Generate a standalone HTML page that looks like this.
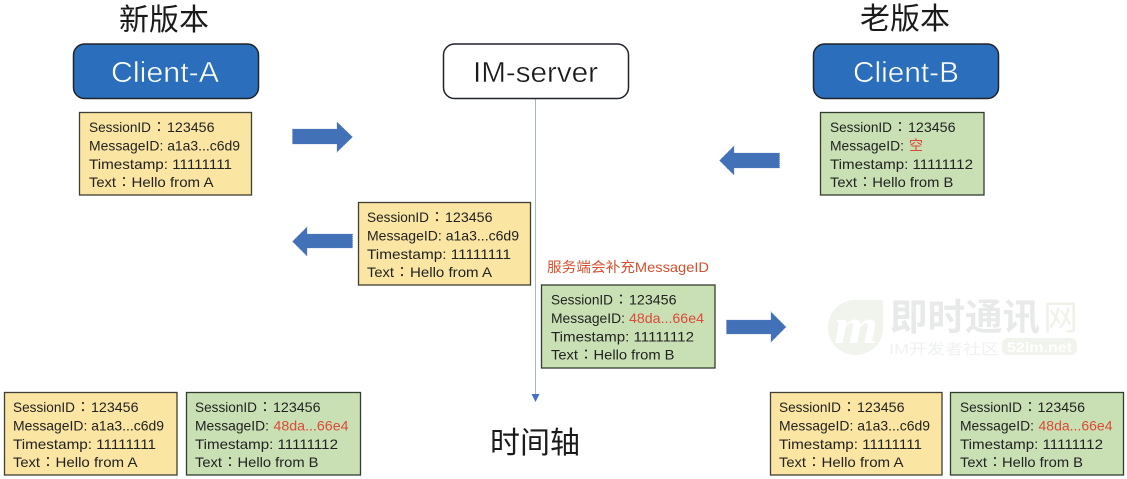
<!DOCTYPE html>
<html>
<head>
<meta charset="utf-8">
<style>
html,body{margin:0;padding:0;background:#fff;}
svg{display:block;filter:blur(.3px);}
text{font-family:"Liberation Sans","Noto Sans CJK SC",sans-serif;}
.t{font-size:14px;fill:#222;}
.k{font-size:14px;fill:#222;font-family:"Noto Sans CJK TC",sans-serif;}
.r{font-size:14px;fill:#db4a3a;}
.y{fill:#fbe5a2;stroke:#3f3f36;stroke-width:1.3;}
.g{fill:#c9e0b4;stroke:#333d2f;stroke-width:1.3;}
.ar{fill:#4371b8;stroke:#5a80c0;stroke-width:.6;stroke-dasharray:1 1;}
.h{font-size:30px;fill:#1a1a1a;}
.c{font-size:29px;}
</style>
</head>
<body>
<svg width="1127" height="479" viewBox="0 0 1127 479" xmlns="http://www.w3.org/2000/svg">
<rect width="1127" height="479" fill="#fff"/>

<!-- watermark -->
<path d="M855 300H883V328C883 344 870 355 855 355C840 355 828 343 828 328C828 312 840 300 855 300Z" fill="#f1f4ec"/>
<text x="834" y="343" font-size="50" font-style="italic" font-weight="bold" fill="#fff" style="font-family:'Liberation Serif',serif" textLength="44" lengthAdjust="spacingAndGlyphs">m</text>
<text x="890" y="330" font-size="37" font-weight="bold" fill="#e8eaea" textLength="150" lengthAdjust="spacingAndGlyphs">即时通讯</text>
<text x="1043" y="330" font-size="35" fill="#f0f2ea">网</text>
<text x="889" y="354" font-size="15" fill="#f0f1f1" textLength="110" lengthAdjust="spacingAndGlyphs">IM开发者社区</text>
<rect x="1002" y="338" width="75" height="17" rx="6" fill="#f1f4ec"/>
<text x="1007" y="352" font-size="14" font-weight="bold" fill="#fff" textLength="65" lengthAdjust="spacingAndGlyphs">52im.net</text>

<!-- timeline -->
<line x1="535.5" y1="99" x2="535.5" y2="396" stroke="#a3b6d6" stroke-width="1"/>
<polygon points="531.5,394 539.5,394 535.5,402" fill="#4472c4"/>

<!-- headings -->
<text class="h" x="119" y="30" textLength="90">新版本</text>
<text class="h" x="860" y="29" textLength="90">老版本</text>
<text class="h" x="490" y="453" textLength="90">时间轴</text>

<!-- nodes -->
<rect x="73.5" y="44" width="185" height="54.5" rx="11" fill="#2b6fbc" stroke="#20242a" stroke-width="1.5"/>
<text class="c" x="111" y="82" fill="#fff" stroke="#2b6fbc" stroke-width=".5" textLength="108" lengthAdjust="spacingAndGlyphs">Client-A</text>
<rect x="443.5" y="44" width="185" height="54.5" rx="11" fill="#fff" stroke="#20242a" stroke-width="1.5"/>
<text class="c" x="473" y="82" fill="#1a1a1a" stroke="#fff" stroke-width=".4" textLength="125" lengthAdjust="spacingAndGlyphs">IM-server</text>
<rect x="813.5" y="44" width="185" height="54.5" rx="11" fill="#2b6fbc" stroke="#20242a" stroke-width="1.5"/>
<text class="c" x="853" y="82" fill="#fff" stroke="#2b6fbc" stroke-width=".5" textLength="106" lengthAdjust="spacingAndGlyphs">Client-B</text>

<!-- arrows -->
<polygon class="ar" points="292.5,129 337,129 337,122 352.5,137 337,152 337,144 292.5,144"/>
<polygon class="ar" points="779.5,153 734,153 734,146 719.5,160.5 734,175 734,168 779.5,168"/>
<polygon class="ar" points="352.5,234 307,234 307,227 292.5,241.5 307,256 307,248 352.5,248"/>
<polygon class="ar" points="726.5,320 771,320 771,312 786,327 771,342 771,334 726.5,334"/>

<!-- A1 -->
<rect class="y" x="79.5" y="112.5" width="172" height="82.5"/>
<g transform="translate(89,132)">
<text class="t" textLength="62" lengthAdjust="spacingAndGlyphs">SessionID</text>
<text class="k" x="63">：</text>
<text class="t" x="78" textLength="47.5" lengthAdjust="spacingAndGlyphs">123456</text>
<text class="t" y="18.5" textLength="151" lengthAdjust="spacingAndGlyphs">MessageID: a1a3...c6d9</text>
<text class="t" y="37" textLength="143" lengthAdjust="spacingAndGlyphs">Timestamp: 11111111</text>
<text class="t" y="55" textLength="27" lengthAdjust="spacingAndGlyphs">Text</text>
<text class="k" x="28" y="55">：</text>
<text class="t" x="42.5" y="55" textLength="82" lengthAdjust="spacingAndGlyphs">Hello from A</text>
</g>

<!-- A2 -->
<rect class="y" x="358.5" y="202.5" width="172" height="82.5"/>
<g transform="translate(367,222)">
<text class="t" textLength="62" lengthAdjust="spacingAndGlyphs">SessionID</text>
<text class="k" x="63">：</text>
<text class="t" x="78" textLength="47.5" lengthAdjust="spacingAndGlyphs">123456</text>
<text class="t" y="18.5" textLength="152" lengthAdjust="spacingAndGlyphs">MessageID: a1a3...c6d9</text>
<text class="t" y="37" textLength="144" lengthAdjust="spacingAndGlyphs">Timestamp: 11111111</text>
<text class="t" y="55" textLength="27" lengthAdjust="spacingAndGlyphs">Text</text>
<text class="k" x="28" y="55">：</text>
<text class="t" x="43" y="55" textLength="82" lengthAdjust="spacingAndGlyphs">Hello from A</text>
</g>

<!-- B1 -->
<rect class="g" x="820.5" y="112.5" width="163.5" height="82.5"/>
<g transform="translate(830,132)">
<text class="t" textLength="62" lengthAdjust="spacingAndGlyphs">SessionID</text>
<text class="k" x="63">：</text>
<text class="t" x="78" textLength="47.5" lengthAdjust="spacingAndGlyphs">123456</text>
<text class="t" y="18.5" textLength="74" lengthAdjust="spacingAndGlyphs">MessageID:</text>
<text class="r" x="79" y="18.5">空</text>
<text class="t" y="37" textLength="143" lengthAdjust="spacingAndGlyphs">Timestamp: 11111112</text>
<text class="t" y="55" textLength="27" lengthAdjust="spacingAndGlyphs">Text</text>
<text class="k" x="28" y="55">：</text>
<text class="t" x="42.3" y="55" textLength="81" lengthAdjust="spacingAndGlyphs">Hello from B</text>
</g>

<!-- server label -->
<text class="r" x="547" y="272" style="fill:#d4502f" textLength="162" lengthAdjust="spacingAndGlyphs">服务端会补充MessageID</text>

<!-- B2 -->
<rect class="g" x="541.5" y="285" width="173.5" height="83"/>
<g transform="translate(551,304.5)">
<text class="t" textLength="62" lengthAdjust="spacingAndGlyphs">SessionID</text>
<text class="k" x="63">：</text>
<text class="t" x="78" textLength="47.5" lengthAdjust="spacingAndGlyphs">123456</text>
<text class="t" y="18.5" textLength="74" lengthAdjust="spacingAndGlyphs">MessageID:</text>
<text class="r" x="78" y="18.5" textLength="75" lengthAdjust="spacingAndGlyphs">48da...66e4</text>
<text class="t" y="37" textLength="143" lengthAdjust="spacingAndGlyphs">Timestamp: 11111112</text>
<text class="t" y="55" textLength="27" lengthAdjust="spacingAndGlyphs">Text</text>
<text class="k" x="28" y="55">：</text>
<text class="t" x="42.5" y="55" textLength="81" lengthAdjust="spacingAndGlyphs">Hello from B</text>
</g>

<!-- bottom left -->
<rect class="y" x="4.5" y="392.5" width="172.5" height="82.5"/>
<g transform="translate(13,412)">
<text class="t" textLength="62" lengthAdjust="spacingAndGlyphs">SessionID</text>
<text class="k" x="63">：</text>
<text class="t" x="78" textLength="47.5" lengthAdjust="spacingAndGlyphs">123456</text>
<text class="t" y="18.5" textLength="151" lengthAdjust="spacingAndGlyphs">MessageID: a1a3...c6d9</text>
<text class="t" y="37" textLength="143" lengthAdjust="spacingAndGlyphs">Timestamp: 11111111</text>
<text class="t" y="55" textLength="27" lengthAdjust="spacingAndGlyphs">Text</text>
<text class="k" x="28" y="55">：</text>
<text class="t" x="42.5" y="55" textLength="82" lengthAdjust="spacingAndGlyphs">Hello from A</text>
</g>

<rect class="g" x="186.5" y="392.5" width="174" height="82.5"/>
<g transform="translate(195,412)">
<text class="t" textLength="62" lengthAdjust="spacingAndGlyphs">SessionID</text>
<text class="k" x="63">：</text>
<text class="t" x="78" textLength="47.5" lengthAdjust="spacingAndGlyphs">123456</text>
<text class="t" y="18.5" textLength="74" lengthAdjust="spacingAndGlyphs">MessageID:</text>
<text class="r" x="78.5" y="18.5" textLength="75" lengthAdjust="spacingAndGlyphs">48da...66e4</text>
<text class="t" y="37" textLength="143" lengthAdjust="spacingAndGlyphs">Timestamp: 11111112</text>
<text class="t" y="55" textLength="27" lengthAdjust="spacingAndGlyphs">Text</text>
<text class="k" x="28" y="55">：</text>
<text class="t" x="42.5" y="55" textLength="81" lengthAdjust="spacingAndGlyphs">Hello from B</text>
</g>

<!-- bottom right -->
<rect class="y" x="770.5" y="392.5" width="171.5" height="82.5"/>
<g transform="translate(779,412)">
<text class="t" textLength="62" lengthAdjust="spacingAndGlyphs">SessionID</text>
<text class="k" x="63">：</text>
<text class="t" x="78" textLength="47.5" lengthAdjust="spacingAndGlyphs">123456</text>
<text class="t" y="18.5" textLength="151" lengthAdjust="spacingAndGlyphs">MessageID: a1a3...c6d9</text>
<text class="t" y="37" textLength="143" lengthAdjust="spacingAndGlyphs">Timestamp: 11111111</text>
<text class="t" y="55" textLength="27" lengthAdjust="spacingAndGlyphs">Text</text>
<text class="k" x="28" y="55">：</text>
<text class="t" x="42.5" y="55" textLength="82" lengthAdjust="spacingAndGlyphs">Hello from A</text>
</g>

<rect class="g" x="950.5" y="392.5" width="173" height="82.5"/>
<g transform="translate(960,412)">
<text class="t" textLength="62" lengthAdjust="spacingAndGlyphs">SessionID</text>
<text class="k" x="63">：</text>
<text class="t" x="77.5" textLength="47.5" lengthAdjust="spacingAndGlyphs">123456</text>
<text class="t" y="18.5" textLength="74" lengthAdjust="spacingAndGlyphs">MessageID:</text>
<text class="r" x="78.5" y="18.5" textLength="74" lengthAdjust="spacingAndGlyphs">48da...66e4</text>
<text class="t" y="37" textLength="143" lengthAdjust="spacingAndGlyphs">Timestamp: 11111112</text>
<text class="t" y="55" textLength="27" lengthAdjust="spacingAndGlyphs">Text</text>
<text class="k" x="28" y="55">：</text>
<text class="t" x="42" y="55" textLength="81" lengthAdjust="spacingAndGlyphs">Hello from B</text>
</g>
</svg>
</body>
</html>
